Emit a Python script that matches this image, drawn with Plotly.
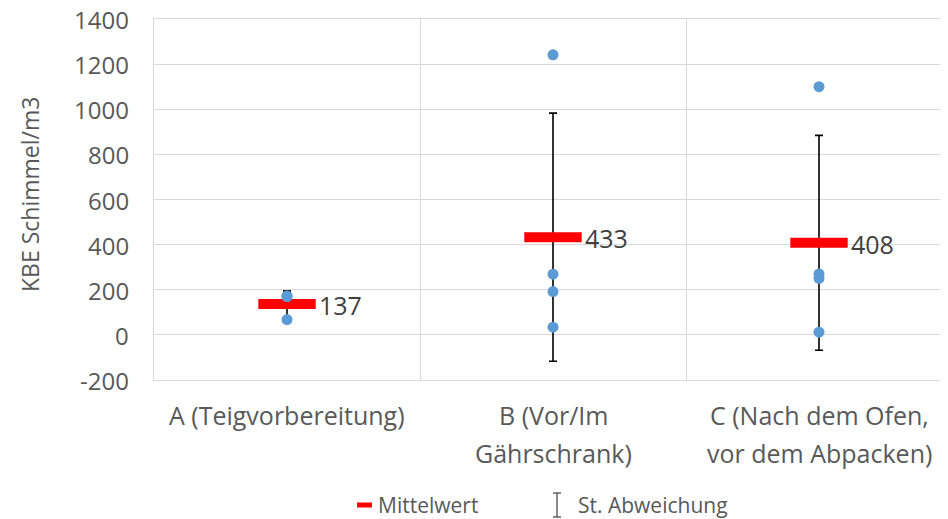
import plotly.graph_objects as go

categories = ["A (Teigvorbereitung)", "B (Vor/Im<br>Gährschrank)", "C (Nach dem Ofen,<br>vor dem Abpacken)"]
mean_values = [137, 433, 408]
std_values = [58, 550, 476]
mean_labels = ["137", "433", "408"]
points_A = [173, 170, 68]
points_B = [1241, 269, 192, 34]
points_C = [1100, 270, 250, 12]
y_ticks = [-200, 0, 200, 400, 600, 800, 1000, 1200, 1400]
y_ticktext = ["-200", "0", "200", "400", "600", "800", "1000", "1200", "1400"]
y_title = "KBE Schimmel/m3"
legend_names = ["Mittelwert", "St. Abweichung"]

# page has an 8px body margin: work in screen px and convert
OFF = 8
W, H = 944, 511
ML, MR, MT, MB = 146, 0, 11, 139
FONT = "Open Sans"
TXT = "#595959"
GRID = "#D9D9D9"

fig = go.Figure()

fig.add_trace(go.Scatter(
    x=categories, y=mean_values, mode="markers",
    marker=dict(symbol="line-ew-open", size=41, color="#FF0000",
                line=dict(width=10, color="#FF0000")),
    error_y=dict(type="data", array=std_values, visible=True,
                 color="black", thickness=1.6, width=4),
    showlegend=False, cliponaxis=False,
))

px_x, px_y = [], []
for cat, pts in zip(categories, [points_A, points_B, points_C]):
    px_x += [cat] * len(pts)
    px_y += pts
fig.add_trace(go.Scatter(
    x=px_x, y=px_y, mode="markers",
    marker=dict(size=11, color="#5B9BD5"),
    showlegend=False, cliponaxis=False,
))

pw = W - ML - MR
ph = H - MT - MB
def fx(p):
    return (p - OFF - ML) / pw
def fy(p):
    return (H - MB - (p - OFF)) / ph

shapes = [
    dict(type="line", xref="paper", yref="paper", x0=fx(357), x1=fx(372), y0=fy(505), y1=fy(505),
         line=dict(color="#FF0000", width=5)),
    dict(type="line", xref="paper", yref="paper", x0=fx(557), x1=fx(557), y0=fy(493), y1=fy(517),
         line=dict(color="#404040", width=1.2)),
    dict(type="line", xref="paper", yref="paper", x0=fx(553), x1=fx(561), y0=fy(493), y1=fy(493),
         line=dict(color="#404040", width=1.2)),
    dict(type="line", xref="paper", yref="paper", x0=fx(553), x1=fx(561), y0=fy(517), y1=fy(517),
         line=dict(color="#404040", width=1.2)),
]
annotations = [
    dict(text=legend_names[0], xref="paper", yref="paper", x=fx(376), y=fy(505), xanchor="left", yanchor="middle",
         showarrow=False, font=dict(size=21, color=TXT, family=FONT)),
    dict(text=legend_names[1], xref="paper", yref="paper", x=fx(576), y=fy(505), xanchor="left", yanchor="middle",
         showarrow=False, font=dict(size=21, color=TXT, family=FONT)),
    dict(text=y_title, xref="paper", yref="paper", x=fx(30), y=fy(195), xanchor="center", yanchor="middle",
         textangle=-90, showarrow=False, font=dict(size=23, color=TXT, family=FONT)),
]
for v, t in zip(y_ticks, y_ticktext):
    annotations.append(dict(text=t, x=fx(130), xref="paper", y=v, yref="y", xanchor="right", yanchor="middle",
                            height=20, valign="middle", borderpad=0,
                            showarrow=False, font=dict(size=24, color=TXT, family=FONT)))
for cat, m, lab in zip(categories, mean_values, mean_labels):
    annotations.append(dict(text=lab, x=cat, y=m, xref="x", yref="y", xanchor="left", yanchor="middle",
                            xshift=30, yshift=-1, showarrow=False,
                            font=dict(size=25, color="#404040", family=FONT)))
line_y = [415, 453]
for cat in categories:
    for i, line in enumerate(cat.split("<br>")):
        annotations.append(dict(text=line, x=cat, xref="x", yref="paper", y=fy(line_y[i]),
                                xanchor="center", yanchor="middle", showarrow=False,
                                font=dict(size=25, color=TXT, family=FONT)))

fig.update_layout(
    width=W, height=H,
    margin=dict(l=ML, r=MR, t=MT, b=MB),
    plot_bgcolor="white", paper_bgcolor="white",
    font=dict(family=FONT, color=TXT),
    shapes=shapes, annotations=annotations,
    xaxis=dict(type="category", categoryarray=categories, tickson="boundaries",
               range=[-0.5, 2.5], showticklabels=False,
               showgrid=True, gridcolor=GRID, gridwidth=1.3, ticks="",
               showline=True, linecolor=GRID, linewidth=1.3, mirror=True, zeroline=False),
    yaxis=dict(range=[-200, 1400], tickvals=y_ticks, showticklabels=False,
               showgrid=True, gridcolor=GRID, gridwidth=1.3,
               showline=True, linecolor=GRID, linewidth=1.3, mirror=True,
               zeroline=True, zerolinecolor=GRID, zerolinewidth=1.3, ticks=""),
)

fig.write_html("out.html")
